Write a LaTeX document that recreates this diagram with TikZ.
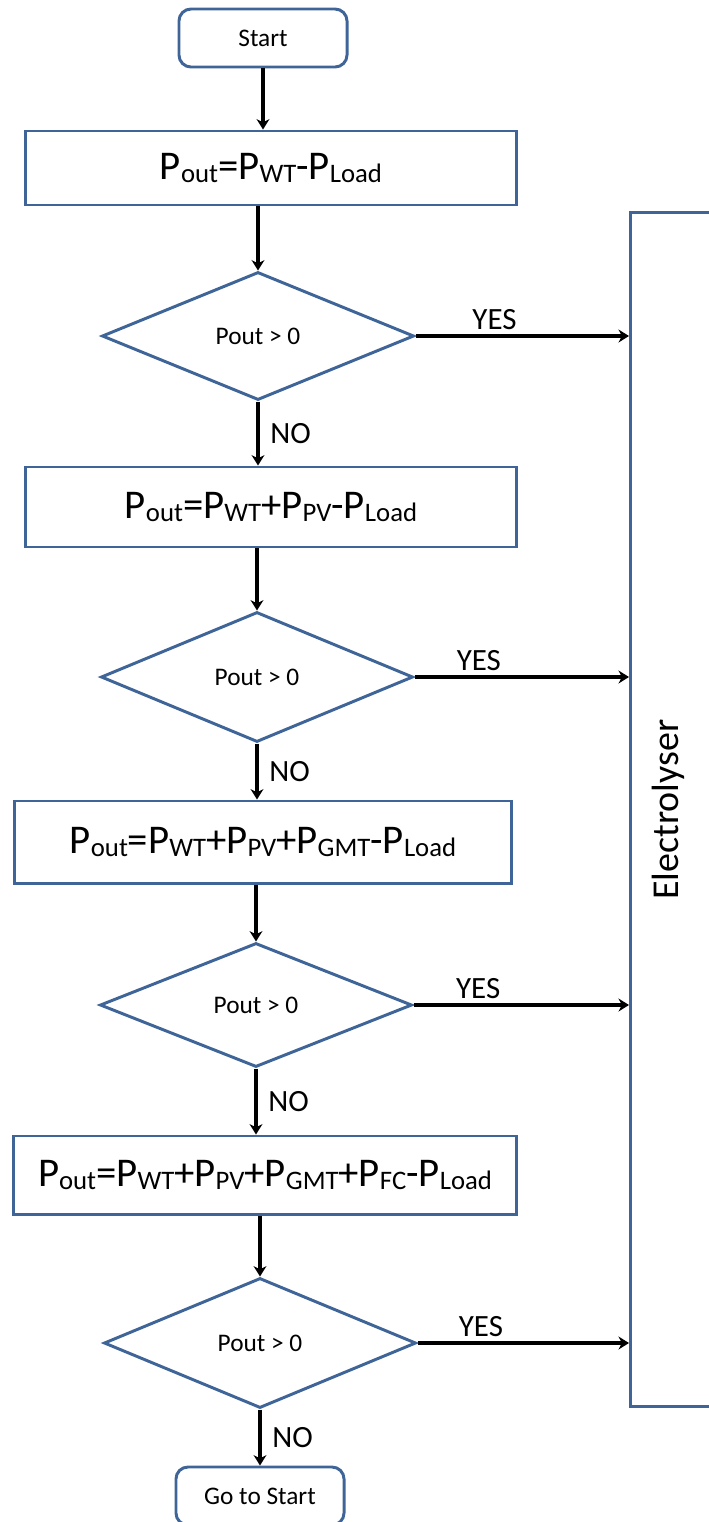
\documentclass[tikz,border=0pt]{standalone}
\usepackage{fontspec}
\setmainfont{Carlito}
\usepackage{tikz}
\usetikzlibrary{arrows.meta,positioning,shapes.geometric}
\definecolor{boxblue}{HTML}{3F6598}
% P with a lowered, smaller index
\newcommand{\sbs}[1]{\raisebox{-0.08em}{\fontsize{19}{19}\selectfont #1}}
\newcommand{\Pw}[1]{P\sbs{#1}}

\begin{document}
\begin{tikzpicture}[
 x=0.025cm,y=-0.025cm,
 terminal/.style={rounded corners=3mm,draw=boxblue,line width=2.1pt,minimum width=4.2cm,minimum height=1.45cm,font=\fontsize{18}{20}\selectfont},
 procbox/.style={draw=boxblue,line width=2.1pt,font=\fontsize{29}{30}\selectfont},
 decision/.style={diamond,draw=boxblue,line width=2.1pt,inner sep=0pt,minimum width=7.8cm,minimum height=3.2cm,font=\fontsize{18}{20}\selectfont},
 elecbox/.style={draw=boxblue,line width=2.1pt,minimum width=4cm,minimum height=29.85cm},
 arrow/.style={-{Stealth[length=2.6mm,width=3.2mm,inset=0.8mm]},line width=2.5pt},
 answer/.style={font=\fontsize{22}{24}\selectfont}
]
\useasboundingbox (0,0) rectangle (709,1522);
\node[terminal] (start) at (263,38) {Start};
\node[procbox,minimum width=12.25cm,minimum height=1.85cm] (pwt) at (271,168) {\Pw{out}=\Pw{WT}-\Pw{Load}};
\node[decision] (dwt) at (258,336) {Pout > 0};
\node[procbox,minimum width=12.25cm,minimum height=2cm] (ppv) at (271,507) {\Pw{out}=\Pw{WT}+\Pw{PV}-\Pw{Load}};
\node[decision,minimum height=3.25cm] (dpv) at (257,677) {Pout > 0};
\node[procbox,minimum width=12.4cm,minimum height=2.05cm] (pgmt) at (263,842) {\Pw{out}=\Pw{WT}+\Pw{PV}+\Pw{GMT}-\Pw{Load}};
\node[decision,minimum height=3.1cm] (dgmt) at (256,1005) {Pout > 0};
\node[procbox,minimum width=12.55cm,minimum height=1.95cm] (pfc) at (265,1175) {\Pw{out}=\Pw{WT}+\Pw{PV}+\Pw{GMT}+\Pw{FC}-\Pw{Load}};
\node[decision,minimum height=3.25cm] (dfc) at (260,1343) {Pout > 0};
\node[terminal] (again) at (260,1496) {Go to Start};
\node[elecbox,anchor=north west] (elec) at (629,211) {};
\node[rotate=90,font=\fontsize{27}{28}\selectfont] (elecname) at ([xshift=0.975cm]elec.west) {Electrolyser};
% main chain
\draw[arrow] (start.south) -- (start.south |- pwt.north);
\draw[arrow] (pwt.south -| dwt.north) -- (dwt.north);
\draw[arrow] (dwt.south) -- node[right,xshift=1.5mm,answer]{NO} (dwt.south |- ppv.north);
\draw[arrow] (ppv.south -| dpv.north) -- (dpv.north);
\draw[arrow] (dpv.south) -- node[right,xshift=1.5mm,answer]{NO} (dpv.south |- pgmt.north);
\draw[arrow] (pgmt.south -| dgmt.north) -- (dgmt.north);
\draw[arrow] (dgmt.south) -- node[right,xshift=1.5mm,answer]{NO} (dgmt.south |- pfc.north);
\draw[arrow] (pfc.south -| dfc.north) -- (dfc.north);
\draw[arrow] (dfc.south) -- node[right,xshift=1.5mm,answer]{NO} (again.north);
% surplus goes to the electrolyser
\draw[arrow] (dwt.east) -- node[pos=0.37,above,answer]{YES} (dwt.east -| elec.west);
\draw[arrow] (dpv.east) -- node[pos=0.3,above,answer]{YES} (dpv.east -| elec.west);
\draw[arrow] (dgmt.east) -- node[pos=0.3,above,answer]{YES} (dgmt.east -| elec.west);
\draw[arrow] (dfc.east) -- node[pos=0.3,above,answer]{YES} (dfc.east -| elec.west);
\end{tikzpicture}
\end{document}
